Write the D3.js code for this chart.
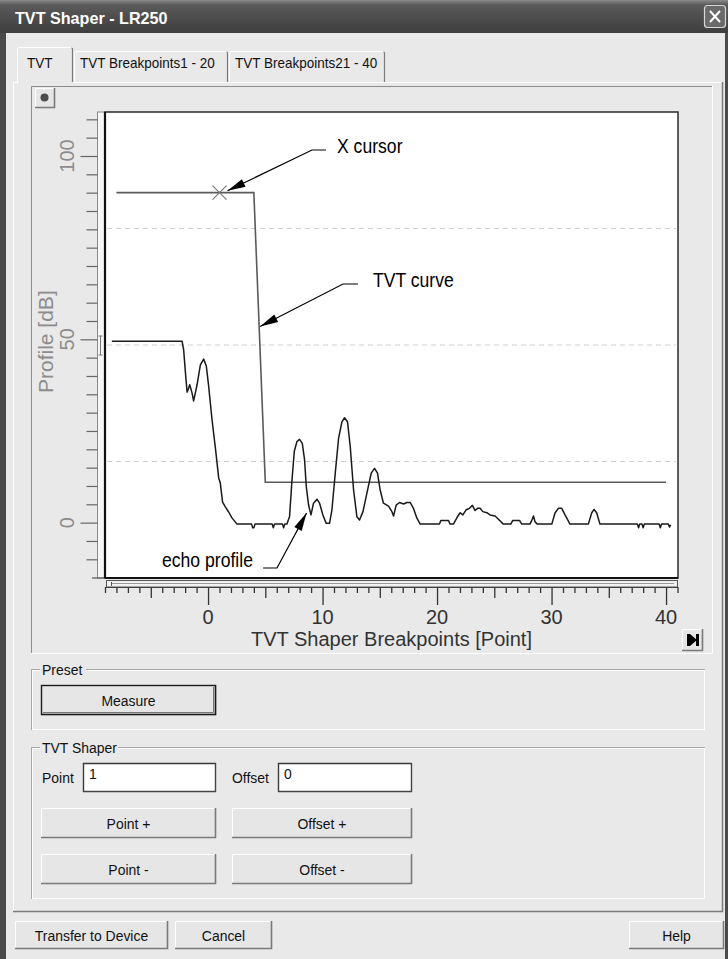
<!DOCTYPE html>
<html><head><meta charset="utf-8">
<script src="https://cdn.jsdelivr.net/npm/d3@7"></script>
<style>html,body{margin:0;padding:0;background:#e9e9e9;overflow:hidden}svg{display:block}</style>
</head><body>
<svg id="c" width="728" height="959"></svg>
<script>
// ---------------- data ----------------
const tvtPoint = [-8, 4, 5, 40];
const tvtDb    = [90, 90, 11, 11];
const cursorPoint = 1, cursorDb = 90;

const echoPoint = [
 -8.4, -2.27, -2.13, -1.98, -1.83, -1.69, -1.6, -1.4, -1.26, -0.96,
 -0.67, -0.38, -0.15, 0.05, 0.35, 0.64, 0.93, 1.07, 1.27, 1.51,
 1.8, 2.09, 2.53, 3.8, 3.9, 4.0, 4.1, 5.6, 5.7, 5.8,
 6.5, 6.6, 6.7, 6.89, 7.12, 7.33, 7.53, 7.76, 7.99, 8.23,
 8.43, 8.58, 8.78, 8.99, 9.21, 9.51, 9.74, 10.03, 10.32, 10.61,
 10.82, 11.11, 11.4, 11.69, 11.92, 12.18, 12.42, 12.71, 13.0, 13.23,
 13.53, 13.87, 14.25, 14.54, 14.8, 15.03, 15.32, 15.76, 16.06, 16.2,
 16.43, 16.72, 17.07, 17.36, 17.65, 17.94, 18.24, 18.53, 20.21, 20.33,
 21.0, 21.14, 21.43, 21.78, 22.02, 22.25, 22.54, 22.83, 23.09, 23.32,
 23.53, 23.76, 24.0, 24.35, 24.63, 25.07, 25.36, 25.79, 26.44, 26.61,
 27.2, 27.4, 28.12, 28.27, 28.42, 28.56, 28.76, 30.02, 30.31, 30.6,
 30.89, 31.18, 31.61, 33.21, 33.51, 33.71, 33.94, 34.23, 37.5, 37.6,
 37.7, 37.9, 38.0, 38.1, 39.4, 39.5, 39.6, 40.2, 40.3, 40.4
];
const echoDb = [
 49.5, 49.5, 47.1, 41.1, 35.6, 36.7, 37.6, 35.4, 33.2, 37.6,
 43.0, 44.6, 42.7, 37.3, 28.0, 20.4, 12.2, 10.8, 5.6, 4.3,
 2.9, 1.3, -0.4, -0.4, -1.4, -1.4, -0.4, -0.4, -1.4, -0.4,
 -0.4, -1.4, -0.4, -0.4, 1.7, 11.6, 19.4, 22.1, 22.7, 21.6,
 17.1, 9.8, 4.8, 2.1, 5.3, 6.4, 5.3, 2.1, -0.2, -0.2,
 3.5, 13.5, 23.0, 27.5, 28.6, 27.5, 20.7, 8.9, 1.6, 0.7,
 3.0, 8.0, 13.5, 14.8, 13.5, 8.9, 5.3, 4.5, 3.0, 1.8,
 4.8, 5.5, 5.1, 5.5, 5.5, 3.9, 1.2, -0.4, -0.4, 0.6,
 0.6, -0.4, -0.4, 1.6, 2.7, 2.1, 3.5, 3.9, 4.7, 3.3,
 3.9, 3.9, 3.0, 2.7, 2.1, 1.8, 0.9, -0.4, -0.4, 0.6,
 0.6, -0.4, -0.4, 0.6, 1.8, 0.2, -0.4, -0.4, 2.7, 3.9,
 3.9, 2.1, -0.4, -0.4, 2.7, 3.6, 2.7, -0.4, -0.4, -1.4,
 -0.4, -0.4, -1.4, -0.4, -0.4, -1.4, -0.4, -0.4, -1.2, -0.6
];

const xMajorTicks = [0, 10, 20, 30, 40];
const xMidTicks = [-5, 5, 15, 25, 35];
const yMajorTicks = [0, 50, 100];
const tabLabels = ["TVT", "TVT Breakpoints1 - 20", "TVT Breakpoints21 - 40"];

// annotations: label, arrow-tip in data units
const annotations = [
  {label: "X cursor",     tipPoint: 1.7,  tipDb: 90.5},
  {label: "TVT curve",    tipPoint: 4.55, tipDb: 53.5},
  {label: "echo profile", tipPoint: 8.6,  tipDb: 2.6}
];

// ---------------- drawing ----------------
const FONT = "'Liberation Sans', Arial, Helvetica, sans-serif";
const BG = "#e9e9e9";
const svg = d3.select("#c");

function txt(p, x, y, s, o = {}) {
  const sx = o.sx ?? 0.93;
  return p.append("text")
    .attr("transform", `translate(${x},${y})` + (o.rot ? ` rotate(${o.rot})` : "") + ` scale(${sx},1)`)
    .attr("font-family", FONT)
    .attr("font-size", o.size ?? 15)
    .attr("font-weight", o.weight ?? "normal")
    .attr("fill", o.fill ?? "#111")
    .attr("text-anchor", o.anchor ?? "start")
    .text(s);
}
function line(p, x1, y1, x2, y2, c, w = 1) {
  return p.append("line").attr("x1", x1).attr("y1", y1).attr("x2", x2).attr("y2", y2)
    .attr("stroke", c).attr("stroke-width", w);
}
function bevel(p, x, y, w, h, raised, face) {
  p.append("rect").attr("x", x).attr("y", y).attr("width", w).attr("height", h).attr("fill", face ?? BG);
  const lt = raised ? "#ffffff" : "#8c8c8c", rb = raised ? "#7a7a7a" : "#ffffff";
  p.append("path").attr("d", `M${x + .5},${y + h}V${y + .5}H${x + w}`).attr("fill", "none").attr("stroke", lt);
  p.append("path").attr("d", `M${x},${y + h - .5}H${x + w - .5}V${y}`).attr("fill", "none").attr("stroke", rb).attr("stroke-width", raised ? 1.6 : 1);
}
function button(p, x, y, w, h, label, isDefault) {
  bevel(p, x, y, w, h, true, "#e6e6e6");
  if (isDefault) {
    p.append("rect").attr("x", x + .5).attr("y", y + .5).attr("width", w - 1).attr("height", h - 1)
      .attr("fill", "none").attr("stroke", "#1a1a1a").attr("stroke-width", 1.4);
    p.append("path").attr("d", `M${x + 2},${y + h - 2.5}H${x + w - 2.5}V${y + 2}`).attr("fill", "none").attr("stroke", "#777");
  }
  txt(p, x + w / 2, y + h / 2 + 5.5, label, {anchor: "middle", size: 15, fill: "#111"});
}
function inputBox(p, x, y, w, h, val) {
  p.append("rect").attr("x", x).attr("y", y).attr("width", w).attr("height", h).attr("fill", "#fff");
  p.append("path").attr("d", `M${x + .5},${y + h}V${y + .5}H${x + w}`).attr("fill", "none").attr("stroke", "#3a3a3a").attr("stroke-width", 1.4);
  p.append("path").attr("d", `M${x},${y + h - .5}H${x + w - .5}V${y}`).attr("fill", "none").attr("stroke", "#444").attr("stroke-width", 1.4);
  txt(p, x + 6, y + 16, val, {size: 15});
}
function groupBox(p, x, y, w, h, label, labelW) {
  p.append("rect").attr("x", x + .5).attr("y", y + .5).attr("width", w).attr("height", h).attr("fill", "none").attr("stroke", "#a8a8a8");
  p.append("rect").attr("x", x + 1.5).attr("y", y + 1.5).attr("width", w - 1).attr("height", h - 1).attr("fill", "none").attr("stroke", "#fff");
  p.append("rect").attr("x", x + 9).attr("y", y - 6).attr("width", labelW).attr("height", 12).attr("fill", BG);
  txt(p, x + 11, y + 5.5, label, {size: 15});
}

// window background
svg.append("rect").attr("width", 728).attr("height", 959).attr("fill", BG);

// title bar
const defs = svg.append("defs");
const tg = defs.append("linearGradient").attr("id", "tb").attr("x1", 0).attr("y1", 0).attr("x2", 0).attr("y2", 1);
tg.append("stop").attr("offset", "0%").attr("stop-color", "#8a8a8a");
tg.append("stop").attr("offset", "15%").attr("stop-color", "#5a5a5a");
tg.append("stop").attr("offset", "70%").attr("stop-color", "#474747");
tg.append("stop").attr("offset", "100%").attr("stop-color", "#3e3e3e");
svg.append("rect").attr("x", 0).attr("y", 0).attr("width", 728).attr("height", 33).attr("fill", "url(#tb)");
txt(svg, 15, 24, "TVT Shaper - LR250", {size: 17, weight: "bold", fill: "#fff", sx: 0.95});
// close button
svg.append("rect").attr("x", 704.5).attr("y", 5.5).attr("width", 21).attr("height", 22).attr("rx", 3)
  .attr("fill", "#6a6a6a").attr("stroke", "#d8d8d8").attr("stroke-width", 1.2);
line(svg, 710, 11, 720, 22, "#fff", 2); line(svg, 720, 11, 710, 22, "#fff", 2);
// window side borders
svg.append("rect").attr("x", 0).attr("y", 33).attr("width", 6).attr("height", 926).attr("fill", "#4a4a4a");
svg.append("rect").attr("x", 725).attr("y", 33).attr("width", 3).attr("height", 926).attr("fill", "#4a4a4a");

// tab panel
const P = {l: 13, t: 82, r: 723, b: 912};
svg.append("path").attr("d", `M${P.l + .5},${P.b}V${P.t + .5}H${P.r}`).attr("fill", "none").attr("stroke", "#fff");
svg.append("path").attr("d", `M${P.l},${P.b - .5}H${P.r - .5}V${P.t}`).attr("fill", "none").attr("stroke", "#7a7a7a").attr("stroke-width", 1.5);
// tabs
const tabX = [17, 74, 229, 386];
tabLabels.forEach((lab, i) => {
  const x0 = tabX[i], x1 = tabX[i + 1] - 1, sel = i === 0, top = sel ? 47 : 51;
  svg.append("rect").attr("x", x0).attr("y", top).attr("width", x1 - x0).attr("height", P.t - top + (sel ? 2 : 0)).attr("fill", BG);
  svg.append("path").attr("d", `M${x0 + .5},${P.t + (sel ? 1 : 0)}V${top + 2}Q${x0 + .5},${top + .5} ${x0 + 2},${top + .5}H${x1 - 2}`)
    .attr("fill", "none").attr("stroke", "#fff");
  svg.append("path").attr("d", `M${x1 - 1.5},${top + 1}Q${x1 - .5},${top + 1} ${x1 - .5},${top + 2}V${P.t}`)
    .attr("fill", "none").attr("stroke", "#7a7a7a").attr("stroke-width", 1.2);
  txt(svg, sel ? 27 : x0 + 6, 68, lab, {size: 15, sx: 0.9});
});

// chart panel (sunken)
bevel(svg, 31, 86, 682, 568, false, BG);
// small round button top-left
bevel(svg, 35, 88, 20, 20, true, "#e6e6e6");
svg.append("circle").attr("cx", 44.5).attr("cy", 97.5).attr("r", 4).attr("fill", "#4d4d4d");
// skip-to-end button bottom-right
bevel(svg, 682, 629, 21, 22, true, "#e6e6e6");
svg.append("path").attr("d", "M687,634H690V646H687Z M690,634L697,640L690,646Z M696,634H699V646H696Z").attr("fill", "#000");

// ---------------- chart ----------------
const plot = {l: 105, r: 678, t: 112, b: 578};
const x = d3.scaleLinear().domain([-9, 41]).range([105, 677.5]);
const y = d3.scaleLinear().domain([-15.1, 112]).range([plot.b, plot.t]);

svg.append("rect").attr("x", plot.l).attr("y", plot.t).attr("width", plot.r - plot.l).attr("height", plot.b - plot.t)
  .attr("fill", "#fff");

// quarter grid lines (dashed)
[0.25, 0.5, 0.75].forEach(f => {
  const yy = plot.t + f * (plot.b - plot.t);
  line(svg, plot.l + 2, yy, plot.r - 2, yy, "#cfcfcf", 1).attr("stroke-dasharray", "5,4");
});

// y axis strip + ticks
svg.append("rect").attr("x", 97.5).attr("y", plot.t).attr("width", 7).attr("height", plot.b - plot.t)
  .attr("fill", "#f6f6f6").attr("stroke", "#8a8a8a");
const yMinor = d3.range(-10, 111, 5).filter(v => !yMajorTicks.includes(v));
const yAxMinor = svg.append("g").attr("transform", "translate(97.5,0)")
  .call(d3.axisLeft(y).tickValues(yMinor).tickSize(11).tickFormat(""));
const yAxMajor = svg.append("g").attr("transform", "translate(97.5,0)")
  .call(d3.axisLeft(y).tickValues(yMajorTicks).tickSize(17).tickFormat(""));
[yAxMinor, yAxMajor].forEach(g => { g.select(".domain").remove(); g.selectAll("line").attr("stroke", "#666").attr("stroke-width", 1.2); });
line(svg, 92, plot.b, 105, plot.b, "#555", 1.2);
yMajorTicks.forEach(v => txt(svg, 73.5, y(v), String(v), {rot: -90, anchor: "middle", size: 20, fill: "#8c8c8c", sx: 1}));
txt(svg, 53, 393, "Profile [dB]", {rot: -90, anchor: "start", size: 21, fill: "#8c8c8c", sx: 1});
// I-beam marker on strip
svg.append("path").attr("d", "M98.5,336H102.5M100.5,336V355M98.5,355H102.5").attr("stroke", "#777").attr("fill", "none");

// x axis strip + ticks
svg.append("rect").attr("x", 106.5).attr("y", 580.5).attr("width", 571).attr("height", 6.5).attr("fill", "#f2f2f2").attr("stroke", "#555");
line(svg, 111, 583.5, 674, 583.5, "#999", 1);
line(svg, 111.5, 582, 111.5, 586, "#555", 1);
const xMinor = d3.range(-9, 42).filter(v => !xMajorTicks.includes(v) && !xMidTicks.includes(v));
const xg = svg.append("g").attr("transform", "translate(0,587)");
const xa1 = xg.append("g").call(d3.axisBottom(x).tickValues(xMinor).tickSize(6).tickFormat(""));
const xa2 = xg.append("g").call(d3.axisBottom(x).tickValues(xMidTicks).tickSize(11).tickFormat(""));
const xa3 = xg.append("g").call(d3.axisBottom(x).tickValues(xMajorTicks).tickSize(18).tickFormat(""));
[xa1, xa2, xa3].forEach(g => { g.select(".domain").remove(); g.selectAll("line").attr("stroke", "#333").attr("stroke-width", 1.3); });
line(svg, 106, 587.5, 678, 587.5, "#444", 1);
xMajorTicks.forEach(v => txt(svg, x(v), 624, String(v), {anchor: "middle", size: 20, fill: "#333", sx: 1}));
txt(svg, (plot.l + plot.r) / 2, 646, "TVT Shaper Breakpoints [Point]", {anchor: "middle", size: 20, fill: "#333", sx: 1});

// series
const lineGen = d3.line().x(d => x(d[0])).y(d => y(d[1]));
svg.append("path").datum(d3.zip(tvtPoint, tvtDb)).attr("d", lineGen)
  .attr("fill", "none").attr("stroke", "#5a5a5a").attr("stroke-width", 1.6);
svg.append("path").datum(d3.zip(echoPoint, echoDb)).attr("d", lineGen)
  .attr("fill", "none").attr("stroke", "#1a1a1a").attr("stroke-width", 1.5).attr("stroke-linejoin", "round");
// cursor marker
const cx = x(cursorPoint), cy = y(cursorDb);
svg.append("path").attr("d", `M${cx - 7},${cy - 7}L${cx + 7},${cy + 7}M${cx + 7},${cy - 7}L${cx - 7},${cy + 7}`)
  .attr("stroke", "#777").attr("stroke-width", 1.2);

// plot frame
svg.append("rect").attr("x", plot.l).attr("y", plot.t).attr("width", plot.r - plot.l).attr("height", plot.b - plot.t)
  .attr("fill", "none").attr("stroke", "#2a2a2a").attr("stroke-width", 1.5);
line(svg, plot.l, plot.t, plot.l, plot.b, "#111", 2.2);
line(svg, plot.l, plot.b, plot.r, plot.b, "#111", 2.2);

// annotations
const annLayout = [
  {tx: 337, ty: 153, elbow: [[326, 150], [312, 150]]},
  {tx: 373, ty: 287, elbow: [[358, 284], [343, 284]]},
  {tx: 162, ty: 567, elbow: [[263, 568], [277, 568]]}
];
annotations.forEach((a, i) => {
  const L = annLayout[i];
  txt(svg, L.tx, L.ty, a.label, {size: 20, fill: "#000", sx: 0.88});
  const tip = [x(a.tipPoint), y(a.tipDb)];
  const [p0, p1] = L.elbow;
  svg.append("path").attr("d", `M${p0[0]},${p0[1]}L${p1[0]},${p1[1]}L${tip[0]},${tip[1]}`)
    .attr("fill", "none").attr("stroke", "#000").attr("stroke-width", 1.2);
  const dx = p1[0] - tip[0], dy = p1[1] - tip[1], len = Math.hypot(dx, dy);
  const ux = dx / len, uy = dy / len, hl = 18, hw = 4.2;
  const bx = tip[0] + ux * hl, by = tip[1] + uy * hl;
  svg.append("path").attr("d", `M${tip[0]},${tip[1]}L${bx - uy * hw},${by + ux * hw}L${bx + uy * hw},${by - ux * hw}Z`)
    .attr("fill", "#000");
});

// ---------------- lower controls ----------------
groupBox(svg, 31, 669, 673, 60, "Preset", 46);
button(svg, 41, 685, 175, 30, "Measure", true);

groupBox(svg, 31, 747, 673, 151, "TVT Shaper", 78);
txt(svg, 42, 783, "Point", {size: 15});
inputBox(svg, 83, 763, 133, 29, "1");
txt(svg, 232, 783, "Offset", {size: 15});
inputBox(svg, 278, 763, 134, 29, "0");
button(svg, 41, 808, 175, 30, "Point +");
button(svg, 232, 808, 180, 30, "Offset +");
button(svg, 41, 854, 175, 30, "Point -");
button(svg, 232, 854, 180, 30, "Offset -");

button(svg, 15, 921, 153, 28, "Transfer to Device");
button(svg, 175, 921, 97, 28, "Cancel");
button(svg, 629, 921, 95, 28, "Help");
</script>
</body></html>
